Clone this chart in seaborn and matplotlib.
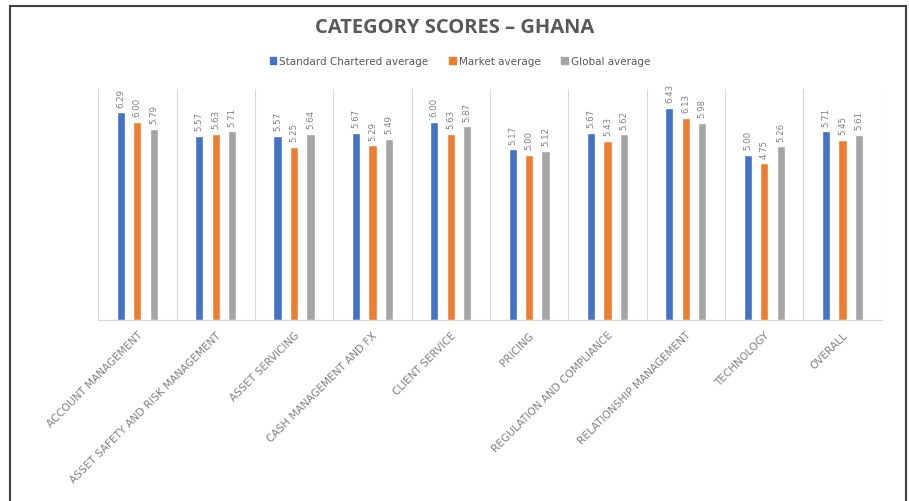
# === Librerías ===
import numpy as np
import pandas as pd
import matplotlib.pyplot as plt
from matplotlib.patches import Rectangle
import seaborn as sns

# === Datos ===
categories = [
    "ACCOUNT MANAGEMENT",
    "ASSET SAFETY AND RISK MANAGEMENT",
    "ASSET SERVICING",
    "CASH MANAGEMENT AND FX",
    "CLIENT SERVICE",
    "PRICING",
    "REGULATION AND COMPLIANCE",
    "RELATIONSHIP MANAGEMENT",
    "TECHNOLOGY",
    "OVERALL",
]
series_names = ["Standard Chartered average", "Market average", "Global average"]
sc_avg = [6.29, 5.57, 5.57, 5.67, 6.00, 5.17, 5.67, 6.43, 5.00, 5.71]
market_avg = [6.00, 5.63, 5.25, 5.29, 5.63, 5.00, 5.43, 6.13, 4.75, 5.45]
global_avg = [5.79, 5.71, 5.64, 5.49, 5.87, 5.12, 5.62, 5.98, 5.26, 5.61]
palette = ["#4472C4", "#ED7D31", "#A5A5A5"]

df = pd.DataFrame({
    "Category": categories * 3,
    "Series": [s for s in series_names for _ in categories],
    "Score": sc_avg + market_avg + global_avg,
})

# === Configuración visual ===
sns.set_theme(style="white")
plt.rcParams['font.family'] = ['DejaVu Sans']
text_gray = "#595959"
light_gray = "#808080"

fig = plt.figure(figsize=(9.09, 5.02), dpi=100)
ax = fig.add_axes([0.108, 0.361, 0.862, 0.46])

sns.barplot(
    data=df, x="Category", y="Score", hue="Series", order=categories,
    hue_order=series_names, palette=palette, width=0.63, gap=0.5,
    saturation=1, legend=False, ax=ax
)

# Etiquetas de valor verticales
for cont in ax.containers:
    ax.bar_label(cont, fmt="%.2f", rotation=90, padding=4,
                 fontsize=6.2, color=light_gray)

# Líneas verticales entre categorías
for x in np.arange(-0.5, len(categories), 1.0):
    ax.axvline(x, color="#D9D9D9", lw=0.8, zorder=0)

ax.set_xlim(-0.5, len(categories) - 0.5)
ax.set_ylim(0, 7)
ax.set_yticks([])
ax.set_xlabel("")
ax.set_ylabel("")
for side in ["top", "left", "right"]:
    ax.spines[side].set_visible(False)
ax.spines["bottom"].set_color("#D9D9D9")
ax.spines["bottom"].set_linewidth(0.8)
ax.tick_params(axis="x", length=0, pad=7)
ax.set_xticks(range(len(categories)))
ax.set_xticklabels(categories, rotation=45, ha="right", rotation_mode="anchor",
                   fontsize=7.6, color=light_gray)

# Título y leyenda
fig.text(0.5, 1 - 28 / 502, "CATEGORY SCORES \u2013 GHANA", ha="center", va="center",
         fontsize=14.5, fontweight="bold", color=text_gray, family=["Open Sans", "DejaVu Sans"])
handles = [Rectangle((0, 0), 1, 1, color=c) for c in palette]
fig.legend(handles, series_names, loc="center", ncol=3, frameon=False,
           bbox_to_anchor=(460 / 909, 1 - 62 / 502), fontsize=7.5,
           handlelength=0.6, handleheight=0.6, handletextpad=0.3,
           columnspacing=2.0, labelcolor=text_gray)

# Marco exterior
fig.patches.append(Rectangle((10 / 909, -0.02), 896 / 909, 1 - 7 / 502 + 0.02,
                             transform=fig.transFigure, fill=False,
                             edgecolor="#404040", lw=1.5))

plt.savefig("out.png", dpi=100)
